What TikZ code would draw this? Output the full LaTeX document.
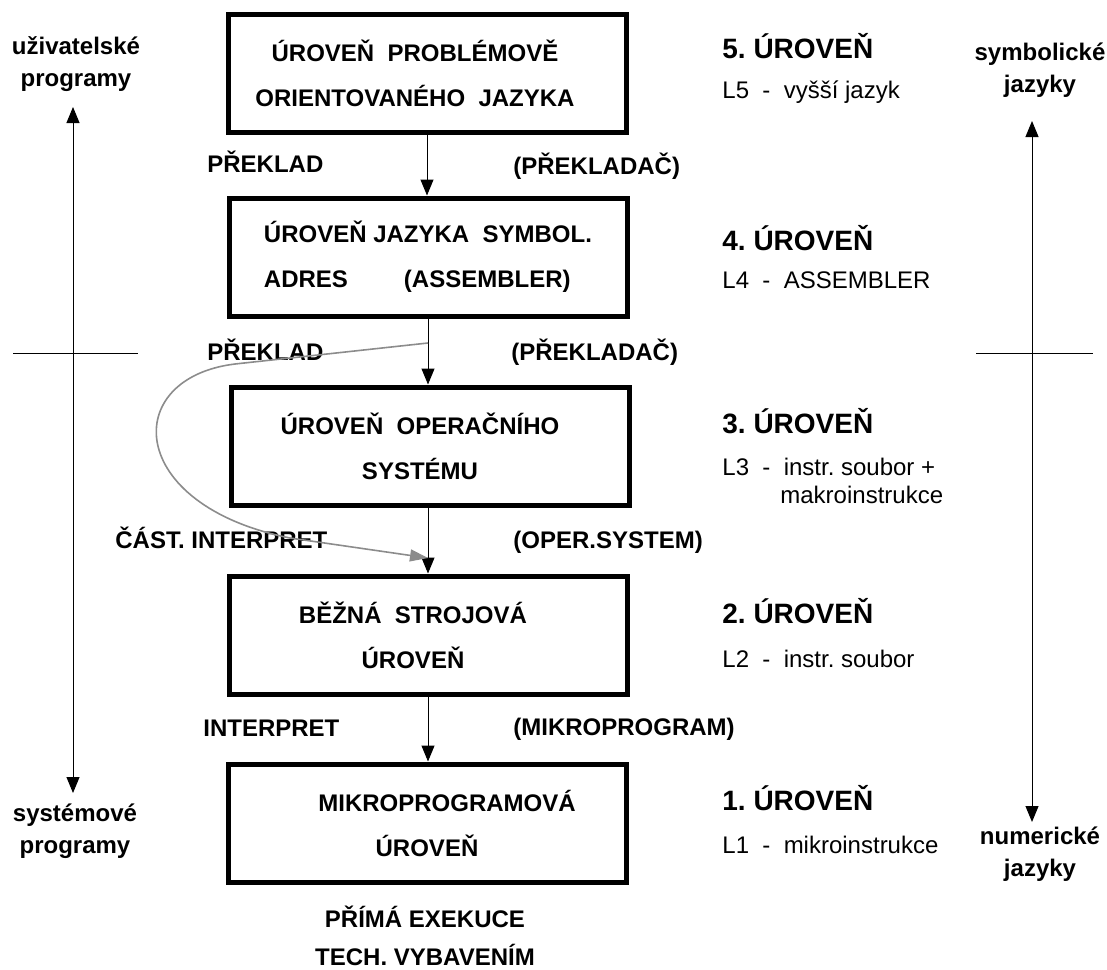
\documentclass[tikz,border=0pt]{standalone}
\usepackage{fontspec}
\setmainfont{Liberation Sans}
\usetikzlibrary{positioning}
\usetikzlibrary{arrows.meta}
\frenchspacing

\tikzset{
  level/.style={draw, line width=2.5pt, minimum width=199pt, minimum height=59pt,
    inner sep=0pt, align=center, font=\fontsize{12}{22.5}\selectfont\bfseries},
  lbl/.style={font=\fontsize{12}{14}\selectfont\bfseries, inner sep=0pt, anchor=west,
    text height=8.6pt, text depth=0pt},
  head/.style={font=\fontsize{14}{16}\selectfont\bfseries, inner sep=0pt, anchor=west,
    text height=10pt, text depth=0pt},
  desc/.style={font=\fontsize{12}{14}\selectfont, inner sep=0pt, anchor=west,
    text height=8.6pt, text depth=0pt},
  side/.style={font=\fontsize{12}{16}\selectfont\bfseries, inner sep=0pt, align=center},
  flow/.style={-{Triangle[width=6.5pt,length=8pt]}, line width=0.5pt},
  both/.style={{Triangle[width=6.5pt,length=8pt]}-{Triangle[width=6.5pt,length=8pt]}, line width=0.5pt},
  part/.style={-{Triangle[width=6pt,length=9pt]}, line width=0.8pt, color=black!45},
}

\begin{document}
\begin{tikzpicture}[x=0.5pt, y=-0.5pt]
\useasboundingbox (0,0) rectangle (1107,969);

\node(L5)[level] at (427,73) {ÚROVEŇ~ PROBLÉMOVĚ\hspace*{12pt}\\ORIENTOVANÉHO~ JAZYKA\hspace*{12pt}};
\node(L4)[level, align=left] at (428,257) {ÚROVEŇ JAZYKA~ SYMBOL.\\ADRES\hspace{28pt}(ASSEMBLER)};
\node(L3)[level] at (430,446) {ÚROVEŇ~ OPERAČNÍHO\hspace*{10pt}\\SYSTÉMU\hspace*{10pt}};
\node(L2)[level] at (428,635) {BĚŽNÁ~ STROJOVÁ\hspace*{15pt}\\ÚROVEŇ\hspace*{15pt}};
\node(L1)[level] at (427,823) {\hspace*{20pt}MIKROPROGRAMOVÁ\\ÚROVEŇ};

\node(p5)[lbl] at (207,164) {PŘEKLAD};
\node(c5)[lbl] at (513,166) {(PŘEKLADAČ)};
\node(p4)[lbl] at (207,352) {PŘEKLAD};
\node(c4)[lbl] at (511,352) {(PŘEKLADAČ)};
\node(p3)[lbl] at (115,540) {ČÁST. INTERPRET};
\node(c3)[lbl] at (513,540) {(OPER.SYSTEM)};
\node(p2)[lbl] at (203,728) {INTERPRET};
\node(c2)[lbl] at (513,727) {(MIKROPROGRAM)};

\node(h5)[head] at (722,48) {5. ÚROVEŇ};
\node(d5)[desc, below=21pt of h5.west, anchor=west] {L5~~-~~vyšší jazyk};
\node(h4)[head] at (722,240) {4. ÚROVEŇ};
\node(d4)[desc, below=20pt of h4.west, anchor=west] {L4~~-~~ASSEMBLER};
\node(h3)[head] at (722,423) {3. ÚROVEŇ};
\node(d3)[desc, below=22pt of h3.west, anchor=west] {L3~~-~~instr. soubor +};
\node(d3b)[desc] at (780,495) {makroinstrukce};
\node(h2)[head] at (722,613) {2. ÚROVEŇ};
\node(d2)[desc, below=23pt of h2.west, anchor=west] {L2~~-~~instr. soubor};
\node(h1)[head] at (722,800) {1. ÚROVEŇ};
\node(d1)[desc, below=22.5pt of h1.west, anchor=west] {L1~~-~~mikroinstrukce};

\node(up)[side] at (76,64) {uživatelské\\programy};
\node(sp)[side] at (75,831) {systémové\\programy};
\node(sj)[side] at (1040,70) {symbolické\\jazyky};
\node(nj)[side] at (1040,854) {numerické\\jazyky};

\node(ex)[side, font=\fontsize{12}{19}\selectfont\bfseries] at (425,936) {PŘÍMÁ EXEKUCE\\TECH. VYBAVENÍM};

\draw[flow] (L5.south) -- (L5.south |- L4.north);
\draw[flow] (L4.south) -- (L4.south |- L3.north);
\draw[flow] (L3.south -| L2.north) -- (L2.north);
\draw[flow] (L2.south) -- (L2.south |- L1.north);

\coordinate (ltop) at (73,107);
\coordinate (lbot) at (73,793);
\coordinate (rtop) at (1032,121);
\coordinate (rbot) at (1032,822);
\draw[both] (ltop) -- (lbot);
\draw[both] (rtop) -- (rbot);

\draw[line width=0.5pt] (13,353) -- (138,353);
\draw[line width=0.5pt] (976,353) -- (1093,353);

\coordinate (split) at (428,343);
\coordinate (join) at (428,558);
\draw[part] (split) -- (235,364) .. controls (120,378) and (125,505) .. (290,538) -- (join);
\end{tikzpicture}
\end{document}
